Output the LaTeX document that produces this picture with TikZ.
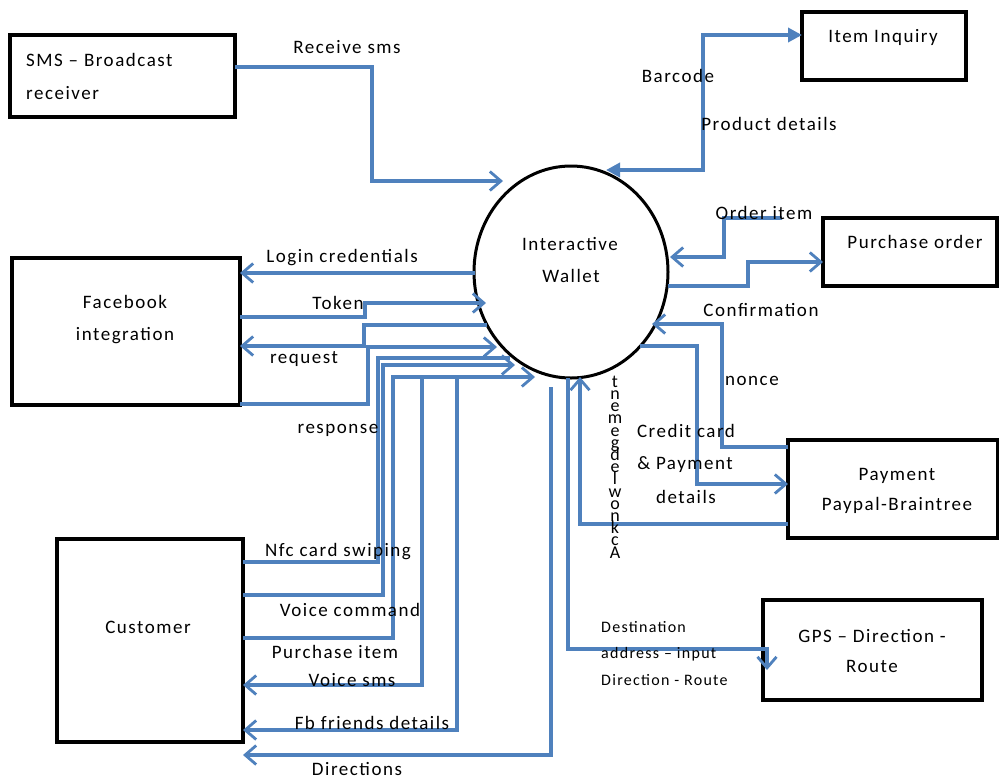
\documentclass[tikz,border=0pt]{standalone}
\usepackage{fontspec}
\setmainfont{Carlito}[LetterSpace=8]
\usetikzlibrary{arrows.meta,shapes.geometric}
\definecolor{wblue}{HTML}{4F81BD}
\begin{document}
\begin{tikzpicture}[x=1pt,y=-1pt,
  box/.style={draw, line width=3.6pt, inner sep=0, outer sep=0, anchor=north west},
  lbl/.style={inner sep=0, font=\fontsize{19}{23}\selectfont},
  slbl/.style={inner sep=0, anchor=west, font=\fontsize{16}{20}\selectfont},
  conn/.style={draw=wblue, line width=3.6pt, line join=miter},
  thin/.style={draw=wblue, line width=3.1pt},
  arr/.style={-{Straight Barb[length=11pt,width=19pt,line width=2.8pt]}},
  tri/.style={{Triangle[length=14pt,width=14pt]}-{Triangle[length=14pt,width=14pt]}}
]
\fill[white] (0,0) rectangle (999,780);
\useasboundingbox (0,0) rectangle (999,780);

% boxes
\node[box, minimum width=225, minimum height=82] (sms) at (10,35) {};
\node[box, minimum width=164, minimum height=68] (ii) at (802,12) {};
\node[box, minimum width=228, minimum height=147] (fb) at (12,258) {};
\node[box, minimum width=186, minimum height=203] (cu) at (57,539) {};
\node[box, minimum width=174, minimum height=68] (po) at (823,218) {};
\node[box, minimum width=210, minimum height=98] (pay) at (788,440) {};
\node[box, minimum width=219, minimum height=100] (gps) at (763,600) {};
\node[draw, ellipse, line width=3pt, minimum width=194, minimum height=212, inner sep=0, outer sep=0] (w) at (571,272) {};

% box texts
\node[lbl, anchor=west] (t1) at (26,60) {SMS – Broadcast};
\node[lbl, anchor=west] (t2) at (26,93) {receiver};
\node[lbl] (t3) at (883,37) {Item Inquiry};
\node[lbl] (t4) at (125,302) {Facebook};
\node[lbl] (t5) at (125,336) {integration};
\node[lbl] (t6) at (148,627) {Customer};
\node[lbl] (t7) at (915,242) {Purchase order};
\node[lbl] (t8) at (897,476) {Payment};
\node[lbl] (t9) at (897,505) {Paypal-Braintree};
\node[lbl] (t10) at (872,636) {GPS – Direction -};
\node[lbl] (t11) at (872,666) {Route};
\node[lbl] (t12) at (570,244) {Interactive};
\node[lbl] (t13) at (571,276) {Wallet};

% connectors
\draw[thin, arr] (sms.east|-0,67) -| (372,181) -- (503,181);
\draw[conn, tri] (606,170) -| (703,35) -- (ii.west|-0,35);
\coordinate (oi) at (782,218);
\draw[thin, arr] (oi) -| (724,257) -- (670,257);
\draw[conn, arr] (668,286) -| (748,262) -- (po.west|-0,262);
\draw[thin, arr] (pay.west|-0,447) -| (722,324) -- (652,324);
\draw[thin, arr] (640,346) -| (697,484) -- (pay.west|-0,484);
\draw[conn, arr] (pay.west|-0,524) -| (580,377);
\draw[thin, arr] (568,378) |- (767,649) -- (767,670);
\draw[conn, arr] (551,387) |- (cu.east|-0,755);
\draw[conn, arr] (475,273) -- (fb.east|-0,273);
\draw[conn, arr] (fb.east|-0,317) -| (365,303) -- (486,303);
\draw[conn, arr] (487,325) -| (364,346) -- (fb.east|-0,346);
\draw[conn, arr] (fb.east|-0,404) -| (368,347) -- (497,347);
\draw[conn] (cu.east|-0,562) -| (378,358) -- (510,358);
\draw[conn, arr] (cu.east|-0,595) -| (383,365) -- (515,365);
\draw[conn, arr] (cu.east|-0,638) -| (393,377) -- (535,377);
\draw[conn, arr] (422,377) |- (cu.east|-0,685);
\draw[conn, arr] (457,377) |- (cu.east|-0,730);

% connector labels
\node[lbl] (l1) at (347,47) {Receive sms};
\node[lbl] (l2) at (678,76) {Barcode};
\node[lbl] (l3) at (769,124) {Product details};
\node[lbl] (l4) at (764,213) {Order item};
\node[lbl] (l5) at (761,310) {Confirmation};
\node[lbl] (l6) at (752,381) {nonce};
\node[lbl] (l7) at (686,431) {Credit card};
\node[lbl] (l8) at (685,465) {\& Payment};
\node[lbl] (l9) at (686,497) {details};
\node[lbl] (l10) at (342,258) {Login credentials};
\node[lbl] (l11) at (338,303) {Token};
\node[lbl] (l12) at (304,359) {request};
\node[lbl] (l13) at (338,430) {response};
\node[lbl] (l14) at (338,552) {Nfc card swiping};
\node[lbl] (l15) at (350,610) {Voice command};
\node[lbl] (l16) at (335,652) {Purchase item};
\node[lbl] (l17) at (352,680) {Voice sms};
\node[lbl] (l18) at (372,723) {Fb friends details};
\node[lbl] (l19) at (357,769) {Directions};
\node[slbl] (l20) at (601,627) {Destination};
\node[slbl] (l21) at (601,654) {address – input};
\node[slbl] (l22) at (601,680) {Direction - Route};
\node[inner sep=0, align=center, font={\fontsize{18}{12.2}\selectfont\lineskiplimit=-50pt}] (l23) at (615,467)
  {t\\n\\e\\m\\e\\g\\d\\e\\l\\w\\o\\n\\k\\c\\A};
\end{tikzpicture}
\end{document}
